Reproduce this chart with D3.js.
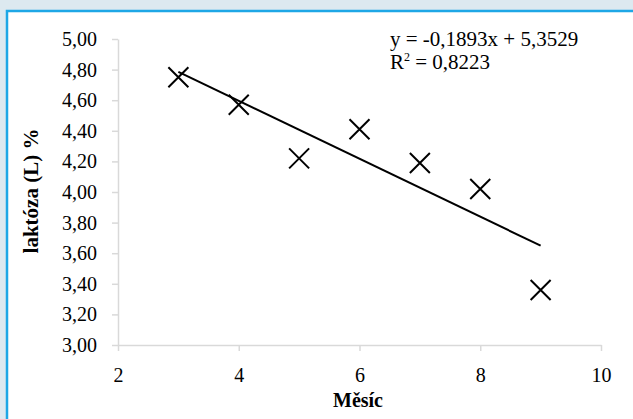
<!DOCTYPE html>
<html>
<head>
<meta charset="utf-8">
<script src="https://cdn.jsdelivr.net/npm/d3@7"></script>
<style>
  body { margin: 0; background: #dde9f0; }
  svg { display: block; }
  .axis path, .axis line { stroke: #d9d9d9; stroke-width: 1.5; }
</style>
</head>
<body>
<svg id="chart" width="633" height="419"></svg>
<script>
var months = [3, 4, 5, 6, 7, 8, 9];
var lactose = [4.75, 4.57, 4.22, 4.41, 4.19, 4.02, 3.36];
var xTicks = [2, 4, 6, 8, 10];
var yTicks = [3.0, 3.2, 3.4, 3.6, 3.8, 4.0, 4.2, 4.4, 4.6, 4.8, 5.0];
var slope = -0.1893, intercept = 5.3529;
var equationText = "y = -0,1893x + 5,3529";
var r2Text = "0,8223";

var serif = '"Liberation Serif", "DejaVu Serif", "Times New Roman", serif';
var svg = d3.select("#chart").style('font-family', serif);

// white panel with blue border, runs off the right/bottom edges
svg.append('rect').attr('x', 7).attr('y', 11).attr('width', 640).attr('height', 420)
  .attr('fill', '#fff').attr('stroke', '#1ea7e6').attr('stroke-width', 2.5);

var xScale = d3.scaleLinear().domain([2, 10]).range([118, 601]);
var yScale = d3.scaleLinear().domain([3, 5]).range([345, 39]);
var fmt = function(d) { return d3.format(".2f")(d).replace('.', ','); };

svg.append('g').attr('class', 'x axis').attr('transform', 'translate(0, 345)')
  .call(d3.axisBottom(xScale).tickValues(xTicks).tickSizeInner(6).tickSizeOuter(0).tickPadding(17));
svg.append('g').attr('class', 'y axis').attr('transform', 'translate(118, 0)')
  .call(d3.axisLeft(yScale).tickValues(yTicks).tickFormat(fmt).tickSizeInner(6).tickSizeOuter(0).tickPadding(15));
svg.selectAll('.axis').attr('font-family', serif).attr('font-size', 20);
svg.selectAll('.axis text').style('font-family', serif).style('font-size', '20px').attr('fill', '#000');

// trendline
svg.append('line')
  .attr('x1', xScale(months[0])).attr('y1', yScale(slope * months[0] + intercept))
  .attr('x2', xScale(months[months.length - 1])).attr('y2', yScale(slope * months[months.length - 1] + intercept))
  .attr('stroke', '#000').attr('stroke-width', 2);

// X markers
var s = 10;
svg.selectAll('path.marker').data(months).enter().append('path')
  .attr('class', 'marker')
  .attr('d', function(d, i) {
    var cx = xScale(d), cy = yScale(lactose[i]);
    return 'M' + (cx - s) + ',' + (cy - s) + 'L' + (cx + s) + ',' + (cy + s) +
           'M' + (cx - s) + ',' + (cy + s) + 'L' + (cx + s) + ',' + (cy - s);
  })
  .attr('stroke', '#000').attr('stroke-width', 2).attr('fill', 'none');

// equation
svg.append('text').attr('x', 390).attr('y', 46).style('font-size', '21px').text(equationText);
var r2 = svg.append('text').attr('x', 390).attr('y', 69).style('font-size', '21px');
r2.append('tspan').text('R');
r2.append('tspan').attr('dy', -8).style('font-size', '12px').text('2');
r2.append('tspan').attr('dy', 8).text(' = ' + r2Text);

// axis titles
svg.append('text').attr('text-anchor', 'middle').style('font-size', '20px').style('font-weight', 'bold')
  .attr('transform', 'translate(358, 407)').text("Měsíc");
svg.append('text').attr('text-anchor', 'middle').style('font-size', '21px').style('font-weight', 'bold')
  .attr('transform', 'translate(38, 191) rotate(-90)').text("laktóza (L) %");
</script>
</body>
</html>
